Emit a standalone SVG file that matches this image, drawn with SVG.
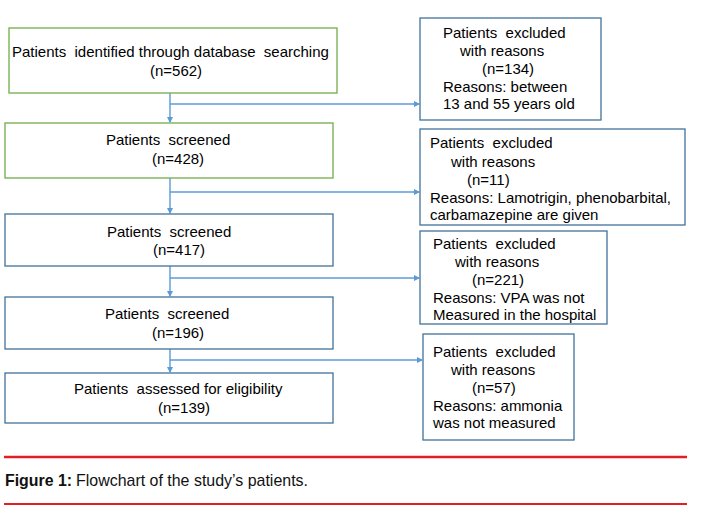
<svg xmlns="http://www.w3.org/2000/svg" width="706" height="514" viewBox="0 0 706 514">
<defs>
<marker id="ah" markerWidth="6" markerHeight="6" refX="5" refY="3" orient="auto" markerUnits="userSpaceOnUse">
<path d="M0,0 L6,3 L0,6 Z" fill="#5b9bd5"/>
</marker>
<style>
.g{fill:#fff;stroke:#70ad47;stroke-width:1.3}
.b{fill:#fff;stroke:#41719c;stroke-width:1.3}
.t{font-family:"Liberation Sans",Arial,sans-serif;font-size:15px;fill:#000;white-space:pre}
.c{stroke:#5b9bd5;stroke-width:1.4;fill:none}
.cap{font-family:"Liberation Sans",sans-serif;font-size:17px;fill:#111}
</style>
</defs>
<rect width="706" height="514" fill="#fff"/>
<g id="connectors">
<path class="c" d="M170,93 V122" marker-end="url(#ah)"/>
<path class="c" d="M170,104 H419" marker-end="url(#ah)"/>
<path class="c" d="M170,178 V213" marker-end="url(#ah)"/>
<path class="c" d="M170,192 H419" marker-end="url(#ah)"/>
<path class="c" d="M170,266 V296" marker-end="url(#ah)"/>
<path class="c" d="M170,278 H419" marker-end="url(#ah)"/>
<path class="c" d="M170,349 V372" marker-end="url(#ah)"/>
<path class="c" d="M170,360 H422" marker-end="url(#ah)"/>
</g>
<g id="n1">
<rect class="g" x="9" y="28" width="328" height="65"/>
<text class="t" x="12" y="57">Patients  identified through database  searching</text>
<text class="t" x="150" y="76">(n=562)</text>
</g>
<g id="n2">
<rect class="g" x="5" y="123" width="328" height="55"/>
<text class="t" x="106" y="145">Patients  screened</text>
<text class="t" x="152" y="164">(n=428)</text>
</g>
<g id="n3">
<rect class="b" x="5" y="214" width="328" height="52"/>
<text class="t" x="107" y="237">Patients  screened</text>
<text class="t" x="153" y="255">(n=417)</text>
</g>
<g id="n4">
<rect class="b" x="5" y="297" width="328" height="52"/>
<text class="t" x="105" y="319">Patients  screened</text>
<text class="t" x="152" y="338">(n=196)</text>
</g>
<g id="n5">
<rect class="b" x="5" y="373" width="328" height="50"/>
<text class="t" x="74" y="394">Patients  assessed for eligibility</text>
<text class="t" x="158" y="413">(n=139)</text>
</g>
<g id="e1">
<rect class="b" x="420" y="18" width="181" height="102"/>
<text class="t" x="443" y="38">Patients  excluded</text>
<text class="t" x="460" y="56">with reasons</text>
<text class="t" x="482" y="74">(n=134)</text>
<text class="t" x="443" y="92">Reasons: between</text>
<text class="t" x="443" y="109">13 and 55 years old</text>
</g>
<g id="e2">
<rect class="b" x="420" y="129" width="265" height="96"/>
<text class="t" x="430" y="148">Patients  excluded</text>
<text class="t" x="451" y="167">with reasons</text>
<text class="t" x="467" y="185">(n=11)</text>
<text class="t" x="430" y="203">Reasons: Lamotrigin, phenobarbital,</text>
<text class="t" x="430" y="220">carbamazepine are given</text>
</g>
<g id="e3">
<rect class="b" x="420" y="231" width="187" height="93"/>
<text class="t" x="433" y="249">Patients  excluded</text>
<text class="t" x="455" y="267">with reasons</text>
<text class="t" x="472" y="285">(n=221)</text>
<text class="t" x="433" y="303">Reasons: VPA was not</text>
<text class="t" x="433" y="320">Measured in the hospital</text>
</g>
<g id="e4">
<rect class="b" x="423" y="334" width="151" height="106"/>
<text class="t" x="433" y="357">Patients  excluded</text>
<text class="t" x="451" y="375">with reasons</text>
<text class="t" x="472" y="393">(n=57)</text>
<text class="t" x="433" y="411">Reasons: ammonia</text>
<text class="t" x="433" y="428">was not measured</text>
</g>
<g id="caption">
<line x1="4" y1="457" x2="687" y2="457" stroke="#e31e24" stroke-width="2.5"/>
<text class="cap" x="5" y="486" font-weight="bold" textLength="67" lengthAdjust="spacingAndGlyphs">Figure 1:</text>
<text class="cap" x="76" y="486" textLength="232" lengthAdjust="spacingAndGlyphs">Flowchart of the study’s patients.</text>
<line x1="4" y1="504" x2="687" y2="504" stroke="#e31e24" stroke-width="2"/>
</g>
</svg>
